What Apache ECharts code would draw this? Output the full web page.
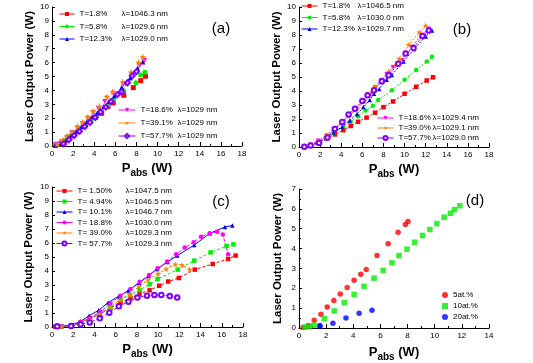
<!DOCTYPE html>
<html><head><meta charset="utf-8">
<script src="https://cdn.jsdelivr.net/npm/echarts/dist/echarts.min.js"></script>
<style>html,body{margin:0;padding:0;background:#fff}#c{width:533px;height:363px}</style>
</head><body><div id="c"></div>
<script>
// ---------- Panel (a) ----------
const aT = ['T=1.8%', 'T=5.8%', 'T=12.3%', 'T=18.6%', 'T=39.1%', 'T=57.7%'];
const aL = ['\u03bb=1046.3 nm', '\u03bb=1029.6 nm', '\u03bb=1029.0 nm', '\u03bb=1029 nm', '\u03bb=1029 nm', '\u03bb=1029 nm'];
const a1 = [[0.3,0.05],[0.7,0.15],[1.2,0.35],[1.7,0.65],[2.1,0.9],[2.6,1.15],[3.1,1.45],[3.6,1.75],[4.1,2.05],[4.7,2.35],[5.3,2.85],[5.8,3.1],[6.8,3.65],[7.7,4.2],[8.4,4.7],[8.85,5.02]];
const a2 = [[0.3,0.05],[0.7,0.15],[1.2,0.4],[1.7,0.7],[2.2,0.95],[2.7,1.25],[3.2,1.55],[3.7,1.9],[4.2,2.2],[4.7,2.5],[5.3,2.95],[5.8,3.35],[6.8,3.95],[7.95,4.55],[8.4,5.1],[8.8,5.3]];
const a3 = [[0.3,0.05],[0.8,0.2],[1.3,0.45],[1.8,0.8],[2.3,1.05],[2.8,1.4],[3.3,1.75],[3.8,2.1],[4.3,2.4],[4.9,2.85],[5.4,3.2],[5.9,3.6],[6.6,4.2],[7.4,4.9],[8.1,5.6],[8.6,6.05]];
const a4 = [[0.4,0.1],[0.9,0.3],[1.4,0.6],[1.9,0.95],[2.4,1.3],[2.9,1.6],[3.4,2.0],[3.9,2.4],[4.4,2.7],[5.0,3.2],[5.8,3.8],[6.75,4.45],[7.55,5.1],[8.3,5.8],[8.75,6.15]];
const a5 = [[0.5,0.15],[1.0,0.4],[1.4,0.7],[1.9,1.0],[2.4,1.4],[2.9,1.7],[3.4,2.1],[3.9,2.5],[4.5,2.85],[5.2,3.55],[5.75,3.9],[6.7,4.6],[7.5,5.3],[8.2,6.0],[8.6,6.4]];
const a6 = [[1.1,0.15],[1.6,0.45],[2.1,0.75],[2.6,1.05],[3.1,1.4],[3.6,1.7],[4.1,2.05],[4.6,2.45],[5.1,2.8],[5.6,3.2],[6.2,3.7],[6.6,3.9],[7.15,4.55],[7.6,5.05],[8.0,5.35]];

// ---------- Panel (b) ----------
const bT = ['T=1.8%', 'T=5.8%', 'T=12.3%', 'T=18.6%', 'T=39.0%', 'T=57.7%'];
const bL = ['\u03bb=1046.5 nm', '\u03bb=1030.0 nm', '\u03bb=1029.7 nm', '\u03bb=1029.4 nm', '\u03bb=1029.1 nm', '\u03bb=1029.0 nm'];
const b1 = [[0.5,0.03],[1.1,0.12],[1.8,0.3],[2.6,0.6],[3.4,0.9],[4.2,1.2],[4.9,1.5],[5.6,1.8],[6.4,2.1],[7.2,2.45],[8.0,2.85],[8.9,3.25],[10.0,3.8],[11.1,4.3],[12.1,4.75],[12.7,4.98]];
const b2 = [[0.5,0.05],[1.1,0.15],[1.9,0.35],[2.6,0.65],[3.3,1.0],[4.2,1.45],[4.9,1.8],[5.6,2.2],[6.3,2.6],[7.0,2.95],[7.5,3.35],[8.8,4.05],[10.0,4.8],[11.1,5.5],[12.1,6.1],[12.6,6.45]];
const b3 = [[0.5,0.05],[1.1,0.15],[1.9,0.35],[2.6,0.75],[3.3,1.05],[4.1,1.45],[4.8,1.9],[5.5,2.35],[6.1,2.85],[6.7,3.35],[7.1,3.8],[7.6,4.15],[8.3,4.8],[8.8,5.15],[9.9,6.1],[10.9,7.0],[12.0,7.9],[12.6,8.33]];
const b4 = [[0.5,0.03],[1.1,0.15],[1.8,0.45],[2.6,0.8],[3.3,1.25],[4.1,1.7],[4.8,2.2],[5.4,2.75],[6.1,3.25],[6.7,3.7],[7.2,4.25],[7.8,4.75],[8.3,5.2],[8.9,5.7],[9.8,6.2],[10.7,7.15],[11.6,8.0],[12.3,8.45]];
const b5 = [[0.5,0.05],[1.1,0.15],[1.8,0.4],[2.6,0.85],[3.3,1.35],[4.0,1.75],[4.7,2.25],[5.5,2.75],[6.2,3.3],[6.8,3.8],[7.2,4.3],[7.8,4.8],[8.5,5.4],[9.5,6.3],[10.4,7.3],[11.4,8.2],[12.0,8.67]];
const b6 = [[0.5,0.02],[1.1,0.1],[1.9,0.29],[2.7,0.67],[3.4,1.29],[4.1,1.79],[4.7,2.33],[5.3,2.74],[6.0,3.29],[6.5,3.69],[7.1,4.05],[7.85,4.69],[8.5,5.12],[9.4,5.95],[10.1,6.67],[10.85,7.07],[11.7,7.93],[12.3,8.33]];

// ---------- Panel (c) ----------
const cT = ['T= 1.50%', 'T= 4.94%', 'T= 10.1%', 'T= 18.8%', 'T= 39.0%', 'T= 57.7%'];
const cL = ['\u03bb=1047.5 nm', '\u03bb=1046.5 nm', '\u03bb=1046.7 nm', '\u03bb=1030.0 nm', '\u03bb=1029.3 nm', '\u03bb=1029.3 nm'];
const c1 = [[0.3,0.02],[0.9,0.05],[1.8,0.1],[2.7,0.33],[3.55,0.62],[4.5,0.93],[5.5,1.33],[6.45,1.76],[7.4,2.05],[8.25,2.36],[9.2,2.62],[10.1,2.95],[10.95,3.25],[11.95,3.5],[13.45,4.1],[15.15,4.5],[16.6,4.86],[17.3,5.1]];
const c2 = [[0.9,0.05],[1.8,0.07],[2.7,0.26],[3.55,0.55],[4.5,1.05],[5.5,1.4],[6.45,1.98],[7.35,2.29],[8.25,2.64],[9.2,3.05],[9.95,3.43],[11.85,4.1],[13.4,4.74],[14.95,5.33],[16.45,5.78],[17.1,5.9]];
const c3 = [[0.9,0.07],[1.8,0.12],[2.7,0.4],[3.5,0.8],[4.4,1.2],[5.3,1.75],[6.3,2.2],[7.2,2.6],[8.2,3.15],[9.1,3.65],[9.9,4.15],[10.9,4.65],[11.8,5.1],[13.4,5.85],[14.9,6.7],[16.3,7.15],[17.0,7.25]];
const c4 = [[0.9,0.05],[1.8,0.1],[2.7,0.38],[3.55,0.62],[4.55,1.1],[5.5,1.67],[6.45,2.24],[7.4,2.71],[8.25,3.24],[9.15,3.71],[9.95,4.19],[10.85,4.67],[11.7,5.19],[12.5,5.67],[13.35,6.05],[14.05,6.45],[14.85,6.7],[15.55,6.8],[16.1,6.6],[16.6,5.2]];
const c5 = [[0.9,0.05],[1.8,0.07],[2.7,0.24],[3.55,0.52],[4.5,0.93],[5.5,1.38],[6.4,1.93],[7.3,2.33],[8.2,2.9],[9.05,3.36],[10.0,3.8],[10.75,4.14],[11.6,4.48],[12.25,4.43],[12.97,4.1]];
const c6 = [[0.5,0.05],[1.8,0.07],[2.7,0.19],[3.55,0.33],[4.5,0.62],[5.4,1.02],[6.3,1.48],[7.2,1.81],[8.05,2.1],[8.95,2.24],[9.65,2.29],[10.3,2.29],[11.1,2.21],[11.8,2.1]];

// ---------- Panel (d) ----------
const dNames = ['5at.%', '10at.%', '20at.%'];
const d1 = [[0.29,0.02],[0.68,0.13],[1.12,0.39],[1.62,0.69],[2.08,1.06],[2.57,1.39],[3.04,1.71],[3.55,2.04],[4.06,2.41],[4.55,2.71],[4.95,2.95],[5.75,3.65],[6.57,4.24],[7.3,4.82],[7.84,5.21],[8.03,5.36]];
const d2 = [[0.44,0.05],[0.78,0.09],[1.12,0.14],[1.86,0.47],[2.59,0.86],[3.33,1.28],[4.06,1.69],[4.79,2.1],[5.53,2.51],[6.2,2.9],[6.85,3.28],[7.37,3.65],[7.96,3.97],[8.52,4.32],[9.1,4.66],[9.64,4.96],[10.16,5.26],[10.7,5.58],[11.16,5.78],[11.45,5.96],[11.85,6.16]];
const d3 = [[1.54,0.07],[1.54,0.13],[2.5,0.24],[3.46,0.5],[4.43,0.74],[5.38,0.9]];

// ---------- Axis ranges ----------
const xMaxABC = 18, xMaxD = 14, yMaxABC = 10, yMaxD = 7;

const COL = ['#ff0000', '#00ee00', '#0000ff', '#ff00ff', '#ff8000', '#8000ff'];
const STAR = 'path://M0,-10L2.35,-3.24L9.51,-3.09L3.8,1.24L5.88,8.09L0,4L-5.88,8.09L-3.8,1.24L-9.51,-3.09L-2.35,-3.24Z';
const DOWN = 'path://M-5,-4L5,-4L0,5Z';
const FONT = 'Liberation Sans, Arial, sans-serif';

const labelMap = {};
function reg(id, t, l) { labelMap[id] = { t: t, l: l }; }

const series = [];
function addSeries(id, t, l, grid, data, color, symbol, size, line) {
  reg(id, t, l);
  const empty = typeof symbol === 'string' && symbol.indexOf('empty') === 0;
  series.push({
    name: id, type: 'line', xAxisIndex: grid, yAxisIndex: grid, data: data,
    symbol: symbol, symbolSize: size, showSymbol: true,
    itemStyle: empty ? { color: color, borderColor: color, borderWidth: 1 } : { color: color, borderWidth: 0 },
    lineStyle: line ? Object.assign({ color: color, width: 1 }, line) : { color: color, width: 0 },
    emphasis: { disabled: true }, animation: false, z: 3
  });
}
// (a)
const aData = [a1, a2, a3, a4, a5, a6];
const aSym = ['rect', 'circle', 'triangle', DOWN, STAR, 'emptyDiamond'];
const aLine = [null, null, { type: 'dotted' }, null, null, { type: [3, 2] }];
aData.forEach((d, i) => addSeries('a' + i, aT[i], aL[i], 0, d, COL[i], aSym[i], i === 4 ? 7 : 5, aLine[i]));
// (b)
const bData = [b1, b2, b3, b4, b5, b6];
const bSym = ['rect', 'circle', 'triangle', DOWN, STAR, 'emptyCircle'];
bData.forEach((d, i) => addSeries('b' + i, bT[i], bL[i], 1, d, COL[i], bSym[i], i === 4 ? 6 : 4.5, { type: [2, 1.5] }));
// (c)
const cData = [c1, c2, c3, c4, c5, c6];
const cSym = ['rect', 'rect', 'triangle', 'circle', STAR, 'emptyCircle'];
cData.forEach((d, i) => addSeries('c' + i, cT[i], cL[i], 2, d, COL[i], cSym[i], i === 4 ? 6 : 4.5, i === 2 ? { type: 'solid' } : { type: [3, 2] }));
// (d)
const dData = [d1, d2, d3];
const dCol = ['#ff0000', '#00ee00', '#0000ff'];
const dSym = ['circle', 'rect', 'circle'];
dData.forEach((d, i) => {
  reg('d' + i, dNames[i], '');
  series.push({ name: 'd' + i, type: 'scatter', xAxisIndex: 3, yAxisIndex: 3, data: d, symbol: dSym[i], symbolSize: 5.5,
    itemStyle: { color: dCol[i] }, emphasis: { disabled: true }, animation: false });
});

const grids = [
  { left: 52, top: 7, width: 190, height: 139 },
  { left: 299, top: 7, width: 190, height: 140 },
  { left: 52, top: 187, width: 191, height: 140 },
  { left: 299, top: 189, width: 190, height: 140 }
];
const xName = '{p|P}{s|abs}{p| (W)}';
const xRich = {
  p: { fontSize: 13, fontWeight: 'bold', fontFamily: FONT, color: '#000', lineHeight: 14, verticalAlign: 'top' },
  s: { fontSize: 10, fontWeight: 'bold', fontFamily: FONT, color: '#000', lineHeight: 11, padding: [6, 0, 0, 0], verticalAlign: 'top' }
};
function xa(i, max, gap) {
  return { gridIndex: i, type: 'value', min: 0, max: max, interval: 2,
    axisLine: { show: true, onZero: false, lineStyle: { color: '#000', width: 1 } },
    axisTick: { show: true, inside: true, length: 4, lineStyle: { color: '#000' } },
    minorTick: { show: true, splitNumber: 2, length: 2, lineStyle: { color: '#000' } },
    splitLine: { show: false },
    axisLabel: { fontSize: 8, color: '#000', margin: 4, fontFamily: FONT },
    name: xName, nameLocation: 'middle', nameGap: gap, nameTextStyle: { rich: xRich } };
}
function ya(i, max, gap, minor) {
  return { gridIndex: i, type: 'value', min: 0, max: max, interval: 1,
    axisLine: { show: true, onZero: false, lineStyle: { color: '#000', width: 1 } },
    axisTick: { show: true, inside: true, length: 3, lineStyle: { color: '#000' } },
    minorTick: { show: minor, splitNumber: 2, length: 2, lineStyle: { color: '#000' } },
    splitLine: { show: false },
    axisLabel: { fontSize: 8, color: '#000', margin: 3, fontFamily: FONT },
    name: 'Laser Output Power (W)', nameLocation: 'middle', nameGap: gap,
    nameTextStyle: { fontSize: 11.5, fontWeight: 'bold', color: '#000', fontFamily: FONT } };
}

function legend(ids, left, top, gap, iw, tw, extra) {
  return Object.assign({
    data: ids.map(id => {
      const s = series.find(q => q.name === id);
      const o = { name: id };
      if (s.type === 'line') o.lineStyle = { width: 1, color: s.itemStyle.color, type: 'solid' };
      return o;
    }),
    orient: 'vertical', left: left, top: top, itemGap: gap, itemWidth: iw, itemHeight: 5,
    padding: 0, selectedMode: false,
    formatter: n => labelMap[n].l ? '{t|' + labelMap[n].t + '}{l|' + labelMap[n].l + '}' : '{t|' + labelMap[n].t + '}',
    textStyle: { fontSize: 8, color: '#000', fontFamily: FONT, lineHeight: 10,
      rich: { t: { fontSize: 8, fontFamily: FONT, color: '#000', width: tw, lineHeight: 10 },
              l: { fontSize: 8, fontFamily: FONT, color: '#000', lineHeight: 10 } } }
  }, extra || {});
}

const option = {
  backgroundColor: '#fff',
  animation: false,
  grid: grids,
  xAxis: [xa(0, xMaxABC, 16), xa(1, xMaxABC, 16), xa(2, xMaxABC, 16), xa(3, xMaxD, 18)],
  yAxis: [ya(0, yMaxABC, 11, false), ya(1, yMaxABC, 16, false), ya(2, yMaxABC, 17, false), ya(3, yMaxD, 15, true)],
  legend: [
    legend(['a0', 'a1', 'a2'], 59, 9, 2.5, 15, 42),
    legend(['a3', 'a4', 'a5'], 118, 105, 3, 17, 37),
    legend(['b0', 'b1', 'b2'], 301, 1, 1.5, 16, 35),
    legend(['b3', 'b4', 'b5'], 377, 113, 0, 16, 34),
    legend(['c0', 'c1', 'c2', 'c3', 'c4', 'c5'], 56, 186, 0.5, 16, 48),
    legend(['d0', 'd1', 'd2'], 442, 290, 1, 6, 30, { itemHeight: 6 })
  ],
  graphic: [
    { type: 'text', x: 221, y: 29, style: { text: '(a)', fontSize: 15, fontFamily: FONT, fill: '#000', align: 'center', verticalAlign: 'middle' } },
    { type: 'text', x: 462, y: 30, style: { text: '(b)', fontSize: 15, fontFamily: FONT, fill: '#000', align: 'center', verticalAlign: 'middle' } },
    { type: 'text', x: 221, y: 202, style: { text: '(c)', fontSize: 15, fontFamily: FONT, fill: '#000', align: 'center', verticalAlign: 'middle' } },
    { type: 'text', x: 475, y: 201, style: { text: '(d)', fontSize: 15, fontFamily: FONT, fill: '#000', align: 'center', verticalAlign: 'middle' } }
  ],
  series: series
};
const chart = echarts.init(document.getElementById('c'), null, { renderer: 'canvas' });
chart.setOption(option);
</script></body></html>
